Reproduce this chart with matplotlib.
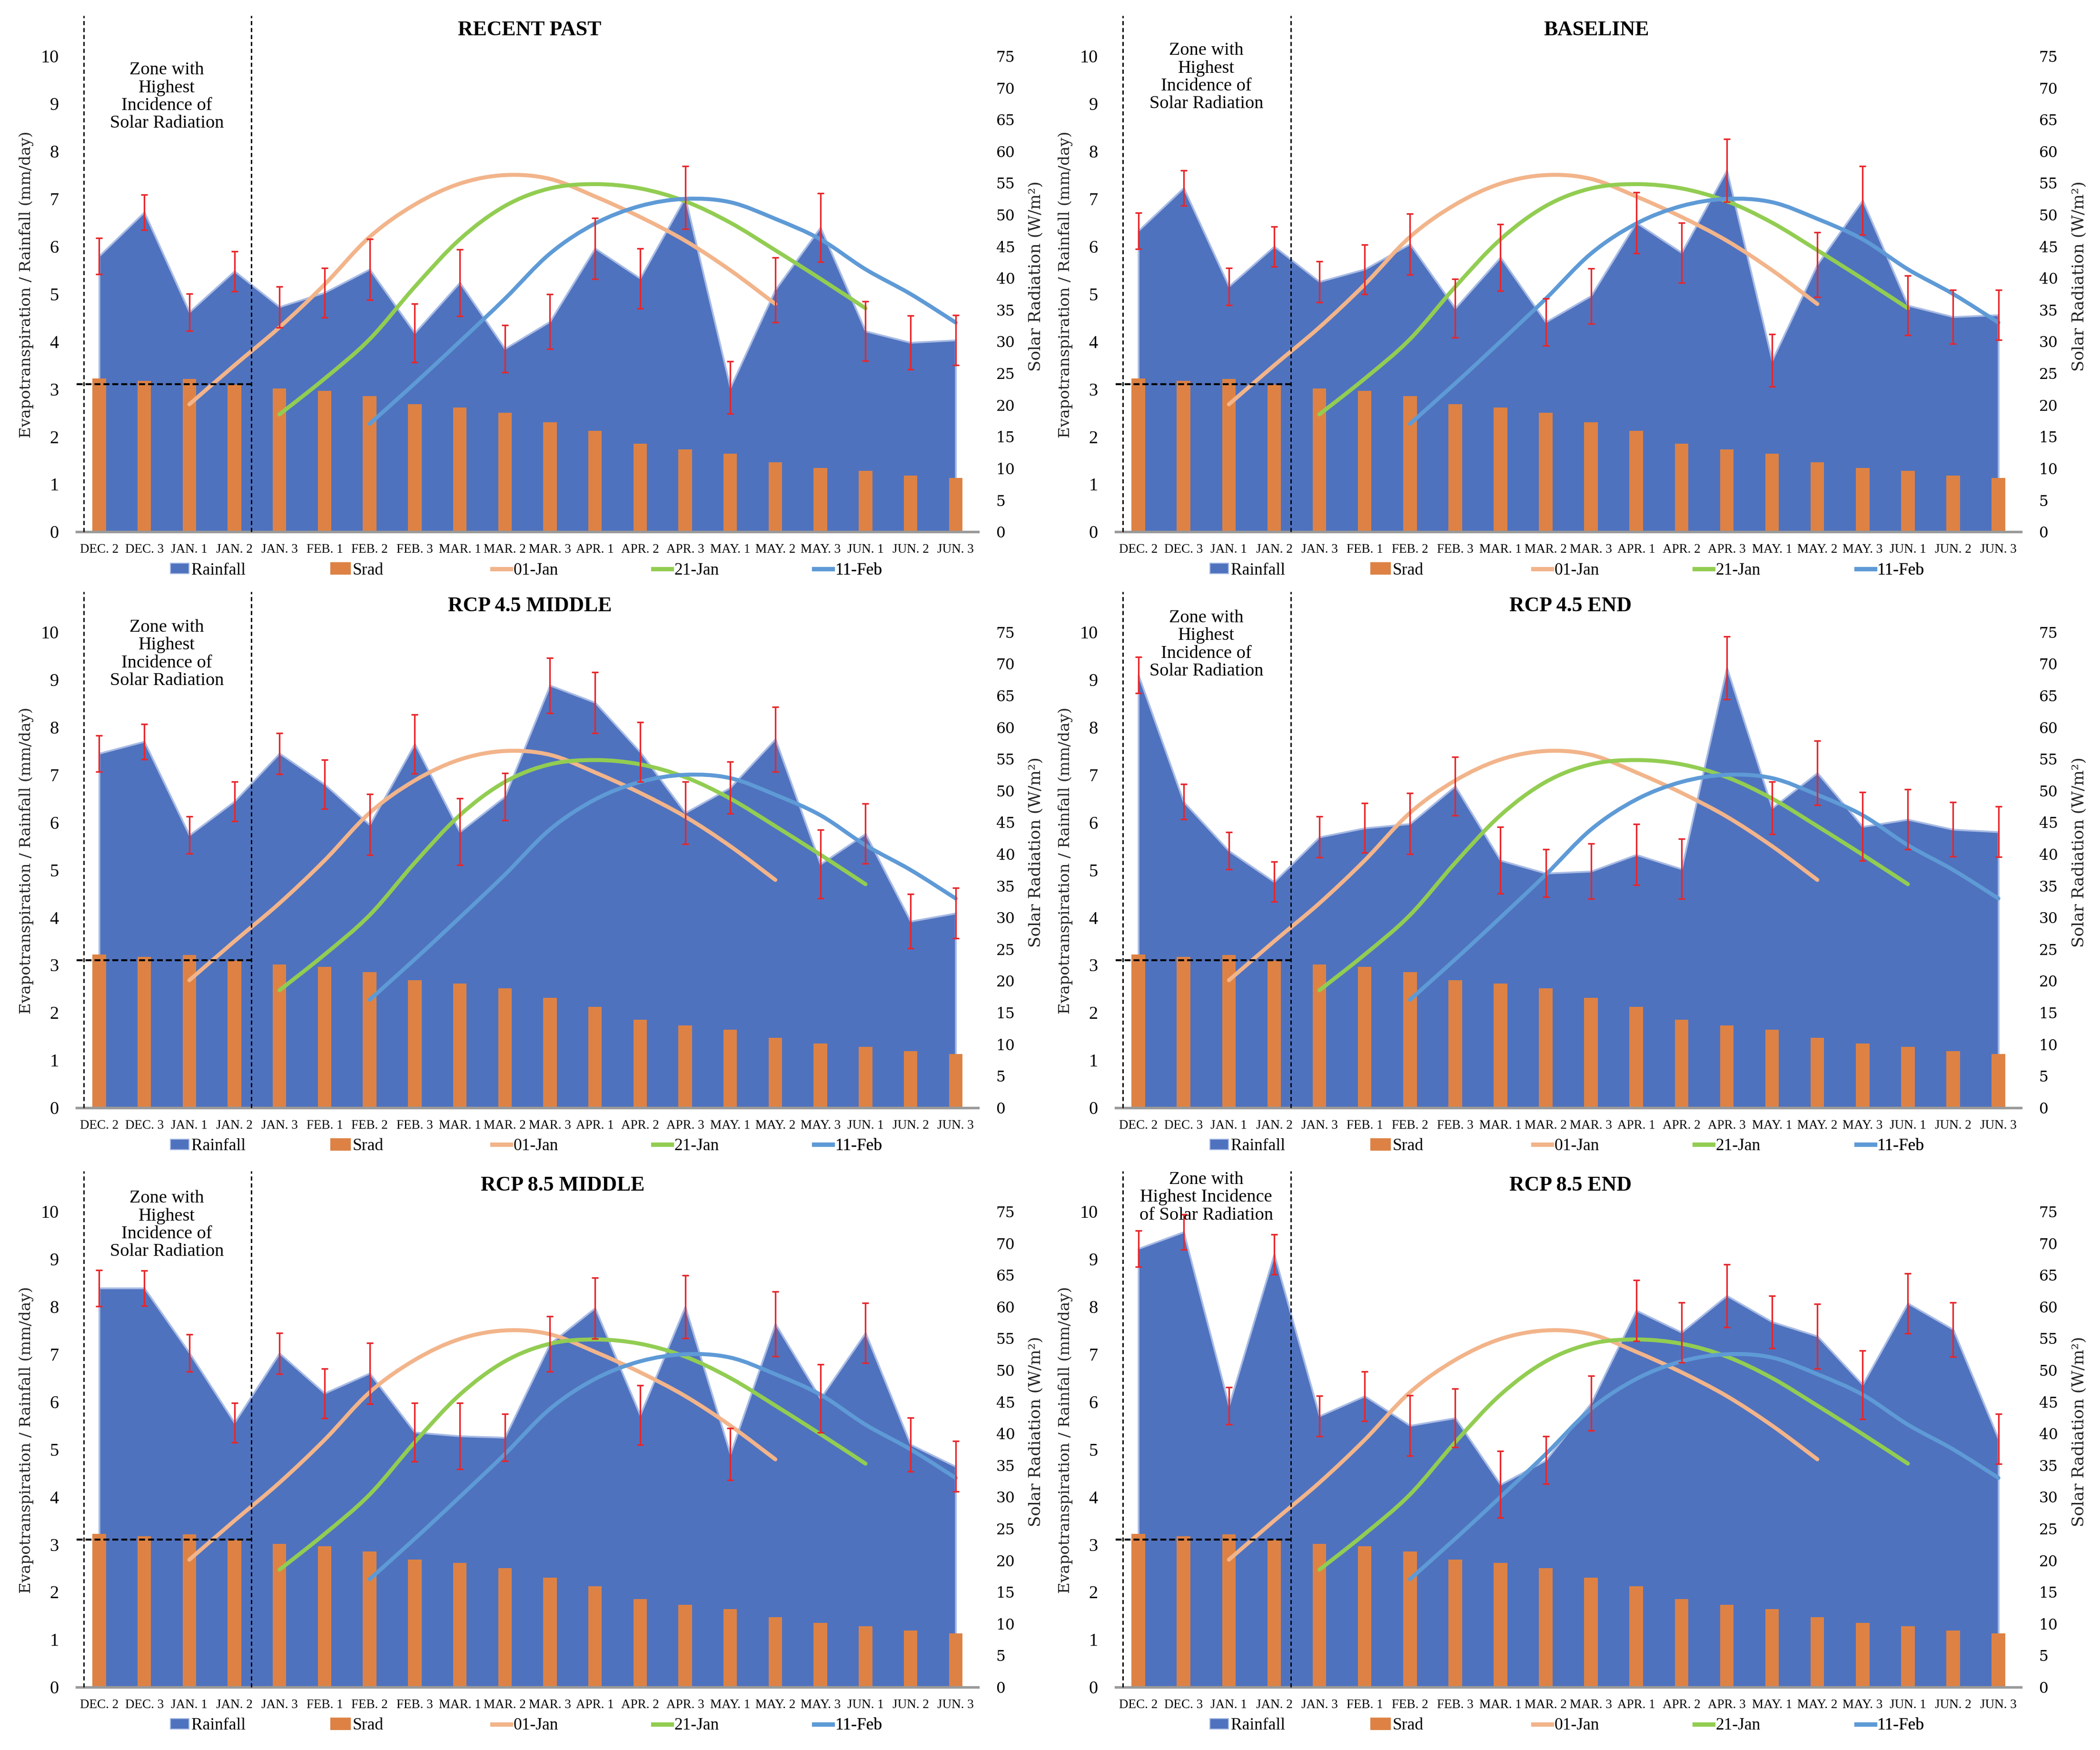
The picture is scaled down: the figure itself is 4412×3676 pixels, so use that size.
import numpy as np
import matplotlib
matplotlib.use('Agg')
import matplotlib.pyplot as plt
from matplotlib.path import Path
from matplotlib.patches import PathPatch, Patch
from matplotlib.lines import Line2D

plt.rcParams['font.family'] = ['Liberation Serif', 'DejaVu Serif']

# ---------------- data ----------------
categories = ['DEC. 2', 'DEC. 3', 'JAN. 1', 'JAN. 2', 'JAN. 3', 'FEB. 1', 'FEB. 2',
              'FEB. 3', 'MAR. 1', 'MAR. 2', 'MAR. 3', 'APR. 1', 'APR. 2', 'APR. 3',
              'MAY. 1', 'MAY. 2', 'MAY. 3', 'JUN. 1', 'JUN. 2', 'JUN. 3']

# Solar radiation (W/m2), right axis
srad = [24.2, 23.8, 24.1, 23.2, 22.6, 22.2, 21.4, 20.1, 19.6, 18.8,
        17.3, 15.9, 13.9, 13.0, 12.3, 11.0, 10.1, 9.6, 8.9, 8.5]

# Rainfall error (mm/day)
rain_err = [0.38, 0.37, 0.39, 0.42, 0.43, 0.52, 0.64, 0.62, 0.70, 0.50,
            0.58, 0.64, 0.63, 0.66, 0.55, 0.68, 0.72, 0.63, 0.57, 0.53]

rain_recent_past = [5.80, 6.72, 4.62, 5.48, 4.73, 5.03, 5.52, 4.18, 5.24, 3.85,
                    4.42, 5.96, 5.33, 7.03, 3.03, 5.09, 6.40, 4.22, 3.98, 4.03]
rain_baseline = [6.33, 7.23, 5.16, 6.00, 5.26, 5.52, 6.05, 4.70, 5.77, 4.41,
                 4.96, 6.50, 5.87, 7.60, 3.60, 5.62, 6.97, 4.76, 4.52, 4.56]
rain_rcp45_middle = [7.45, 7.70, 5.73, 6.44, 7.45, 6.80, 5.95, 7.65, 5.80, 6.54,
                     8.88, 8.52, 7.48, 6.20, 6.73, 7.75, 5.12, 5.76, 3.92, 4.09]
rain_rcp45_end = [9.10, 6.43, 5.40, 4.75, 5.69, 5.88, 5.97, 6.76, 5.20, 4.93,
                  4.97, 5.32, 5.02, 9.25, 6.30, 7.04, 5.91, 6.06, 5.85, 5.80]
rain_rcp85_middle = [8.39, 8.39, 7.03, 5.56, 7.02, 6.18, 6.60, 5.36, 5.28, 5.25,
                     7.22, 7.97, 5.72, 8.00, 4.90, 7.64, 6.07, 7.45, 5.10, 4.64]
rain_rcp85_end = [9.22, 9.57, 5.92, 9.10, 5.70, 6.12, 5.50, 5.66, 4.26, 4.77,
                  5.97, 7.92, 7.46, 8.23, 7.68, 7.38, 6.36, 8.07, 7.52, 5.22]

# Crop evapotranspiration curves for three sowing dates (mm/day)
et_01jan_cats = categories[2:16]
et_01jan = [2.68, 3.50, 4.30, 5.20, 6.20, 6.88, 7.32, 7.50, 7.42, 7.05, 6.62, 6.12, 5.50, 4.79]
et_21jan_cats = categories[4:18]
et_21jan = [2.47, 3.22, 4.05, 5.15, 6.15, 6.85, 7.22, 7.31, 7.22, 6.95, 6.50, 5.92, 5.32, 4.70]
et_11feb_cats = categories[6:20]
et_11feb = [2.27, 3.12, 4.00, 4.90, 5.85, 6.48, 6.85, 7.00, 6.93, 6.58, 6.15, 5.52, 5.00, 4.40]

panel_titles = ['RECENT PAST', 'BASELINE', 'RCP 4.5 MIDDLE', 'RCP 4.5 END',
                'RCP 8.5 MIDDLE', 'RCP 8.5 END']
panel_rain = [rain_recent_past, rain_baseline, rain_rcp45_middle, rain_rcp45_end,
              rain_rcp85_middle, rain_rcp85_end]
zone_texts = ['Zone with\nHighest\nIncidence of\nSolar Radiation'] * 5 + \
             ['Zone with\nHighest Incidence\nof Solar Radiation']
legend_labels = ['Rainfall', 'Srad', '01-Jan', '21-Jan', '11-Feb']

# ---------------- styles ----------------
AREA = '#4F72BE'
AREA_EDGE = '#A8BBE4'
BAR = '#DD8244'
C_01JAN = '#F2B48A'
C_21JAN = '#92CD52'
C_11FEB = '#5E9AD6'
ERR = '#E8262A'

title_x = [9.55, 10.12, 9.55, 9.55, 10.28, 9.55]
zone_y = [9.15, 9.56, 9.54, 9.74, 9.72, 10.30]

col_left = [0.0365, 0.5313]
col_w = [0.4293, 0.4311]
row_bottom = [0.6961, 0.3670, 0.0359]
row_h = 0.2718
legend_x0 = 0.104
legend_dx = 0.1785


def smooth_path(xs, ys):
    """Excel-like smoothed line as a cubic Bezier path (Catmull-Rom control points)."""
    pts = np.column_stack([xs, ys]).astype(float)
    n = len(pts)
    verts = [pts[0]]
    codes = [Path.MOVETO]
    for i in range(n - 1):
        p0 = pts[i - 1] if i > 0 else pts[i]
        p1 = pts[i]
        p2 = pts[i + 1]
        p3 = pts[i + 2] if i + 2 < n else pts[i + 1]
        c1 = p1 + (p2 - p0) / 6.0
        c2 = p2 - (p3 - p1) / 6.0
        verts += [c1, c2, p2]
        codes += [Path.CURVE4] * 3
    return Path(verts, codes)


fig = plt.figure(figsize=(4412 / 300, 3676 / 300), dpi=300)

x = np.arange(len(categories))
cat_index = {c: i for i, c in enumerate(categories)}

for k in range(6):
    r, c = divmod(k, 2)
    ax = fig.add_axes([col_left[c], row_bottom[r], col_w[c], row_h])
    ax.set_xlim(-0.5, len(categories) - 0.5)
    ax.set_ylim(0, 10)
    rain = panel_rain[k]

    ax.fill_between(x, 0, rain, facecolor=AREA, edgecolor=AREA_EDGE, lw=0.9, zorder=1)

    # secondary (solar radiation) axis with bars
    axb = ax.twinx()
    axb.set_ylim(0, 75)
    axb.bar(x, srad, width=0.3, color=BAR, zorder=2)

    # overlay axis for lines and annotations (same scale as left axis)
    axl = ax.twinx()
    axl.set_ylim(0, 10)
    axl.set_yticks([])
    axl.tick_params(right=False, labelright=False)

    for a in (ax, axb, axl):
        for s in a.spines.values():
            s.set_visible(False)

    axl.axhline(0, color='#9A9A9A', lw=1.3, zorder=3, clip_on=False)

    axl.errorbar(x, rain, yerr=rain_err, fmt='none', ecolor=ERR, elinewidth=0.8,
                 capsize=1.6, capthick=0.8, zorder=5)

    for cats, vals, col in ((et_01jan_cats, et_01jan, C_01JAN),
                            (et_21jan_cats, et_21jan, C_21JAN),
                            (et_11feb_cats, et_11feb, C_11FEB)):
        xs = [cat_index[cc] for cc in cats]
        axl.add_patch(PathPatch(smooth_path(xs, vals), facecolor='none', edgecolor=col,
                                lw=2.0, capstyle='round', zorder=4))

    # zone markers
    dash = (0, (3, 2))
    axl.plot([-0.34, -0.34], [0, 10.85], color='black', lw=0.7, ls=dash, clip_on=False, zorder=6)
    axl.plot([3.37, 3.37], [0, 10.85], color='black', lw=0.7, ls=dash, clip_on=False, zorder=6)
    axl.plot([-0.5, 3.37], [3.1, 3.1], color='black', lw=1.0, ls=(0, (3, 1.5)), clip_on=False, zorder=6)
    axl.text(1.5, zone_y[k], zone_texts[k], ha='center', va='center', fontsize=9.2,
             linespacing=1.1, zorder=7)
    axl.text(title_x[k], 10.55, panel_titles[k], ha='center', va='center', fontsize=10.5,
             fontweight='bold', clip_on=False, zorder=7)

    # left axis
    ax.set_yticks(range(0, 11))
    ax.tick_params(axis='y', length=0, pad=9, labelsize=9.2)
    ax.set_xticks(x)
    ax.set_xticklabels(categories, fontsize=6.5)
    ax.tick_params(axis='x', length=0, pad=6)
    ax.set_ylabel('Evapotranspiration / Rainfall (mm/day)', fontfamily='DejaVu Serif',
                  fontsize=7.8, color='#222222')
    ax.yaxis.set_label_coords(-0.0475, 0.52)

    # right axis
    axb.set_yticks(range(0, 80, 5))
    axb.tick_params(axis='y', length=0, pad=9)
    for lab in axb.get_yticklabels():
        lab.set_fontfamily('DejaVu Serif')
        lab.set_fontsize(7.5)
    axb.set_ylabel('Solar Radiation (W/m²)', fontfamily='DejaVu Serif', fontsize=8.2,
                   color='#222222')
    axb.yaxis.set_label_coords(1.056, 0.537)

    handles = [Patch(facecolor=AREA, edgecolor=AREA_EDGE, lw=0.5),
               Patch(facecolor=BAR, edgecolor=BAR),
               Line2D([], [], color=C_01JAN, lw=2.2),
               Line2D([], [], color=C_21JAN, lw=2.2),
               Line2D([], [], color=C_11FEB, lw=2.2)]
    for j, (h, lab) in enumerate(zip(handles, legend_labels)):
        leg = axl.legend([h], [lab], loc='center left',
                         bbox_to_anchor=(legend_x0 + j * legend_dx, -0.081),
                         frameon=False, fontsize=8.5, handlelength=1.1, handleheight=0.6,
                         handletextpad=0.15, borderaxespad=0, borderpad=0)
        axl.add_artist(leg)

fig.savefig('out.png', dpi=300)
